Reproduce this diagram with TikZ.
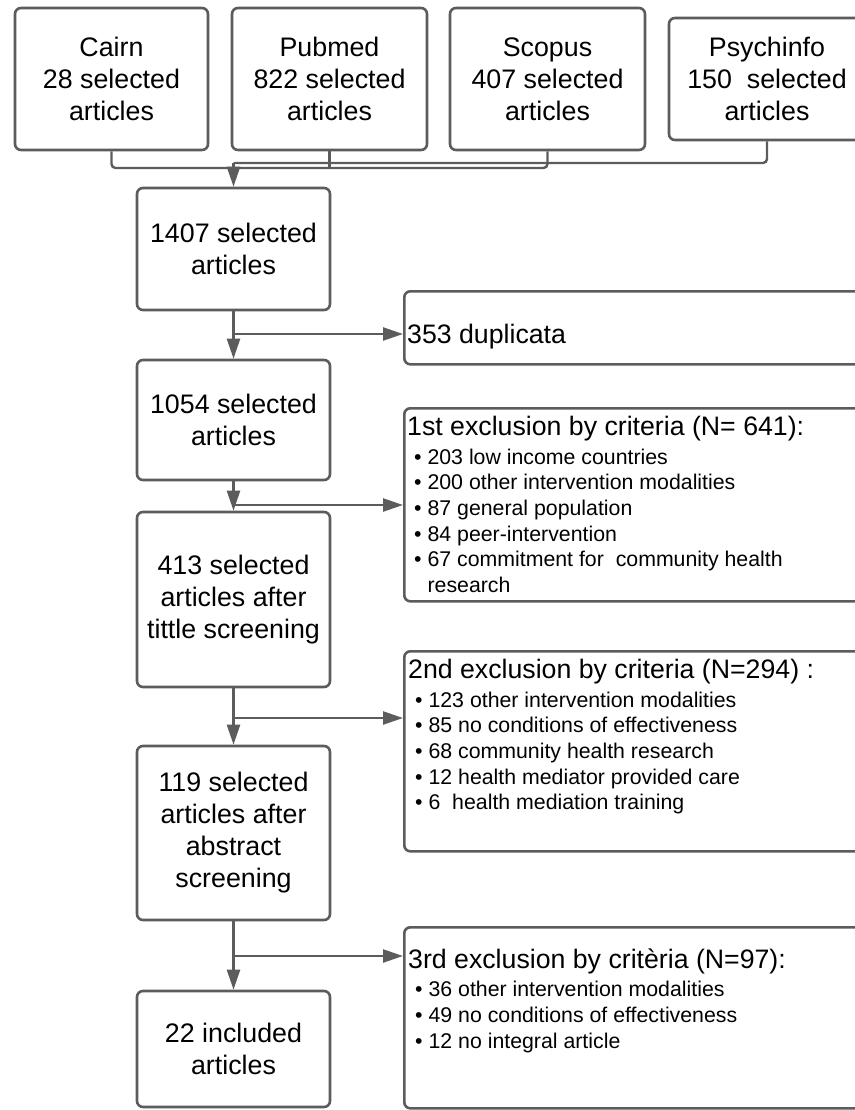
\documentclass[tikz,border=0pt]{standalone}
\usepackage{fontspec}
\setmainfont{Liberation Sans}
\usetikzlibrary{arrows.meta,positioning}

\begin{document}
\begin{tikzpicture}[x=1pt,y=-1pt,
  box/.style={draw=black!64,line width=2.6pt,rounded corners=6pt,align=center,
    minimum width=193pt,inner sep=0pt,font=\fontsize{26.8}{32}\selectfont},
  sidebox/.style={draw=black!64,line width=2.6pt,rounded corners=6pt,
    anchor=north west,minimum width=467pt,inner sep=0pt},
  note/.style={anchor=north west,align=left,inner sep=0pt,
    font=\fontsize{21.3}{25.7}\selectfont},
  head/.style={font=\fontsize{26.7}{32}\selectfont},
  link/.style={draw=black!64,line width=2.4pt,rounded corners=4pt},
  arr/.style={link,-{Triangle[length=20pt,width=13pt]}}]
  \useasboundingbox (0,0) rectangle (854,1110);
  \def\colx{233.5}
  \def\itm{\hspace*{7pt}•\ }
  % databases
  \node[box,minimum height=142pt] (cairn) at (111.5,79) {Cairn\\28 selected\\articles};
  \node[box,minimum width=195pt,minimum height=142pt] (pubmed) at (329.5,79) {Pubmed\\822 selected\\articles};
  \node[box,minimum width=195pt,minimum height=142pt] (scopus) at (547.5,79) {Scopus\\407 selected\\articles};
  \node[box,minimum width=196pt,minimum height=122pt] (psych) at (767,79) {Psychinfo\\150\ \ selected\\articles};
  % main column
  \node[box,minimum height=122pt] (n1407) at (\colx,249) {1407 selected\\articles};
  \node[box,minimum height=120pt] (n1054) at (\colx,420) {1054 selected\\articles};
  \node[box,minimum height=175pt] (n413) at (\colx,599.5) {413 selected\\articles after\\tittle screening};
  \node[box,minimum height=174pt] (n119) at (\colx,833) {119 selected\\articles after\\abstract\\screening};
  \node[box,minimum height=116pt] (n22) at (\colx,1049) {22 included\\articles};
  % excluded
  \node[sidebox,minimum height=73pt] (dup) at (403,290) {};
  \node[sidebox,minimum height=193pt] (ex1) at (403,407) {};
  \node[sidebox,minimum height=200pt] (ex2) at (403,650) {};
  \node[sidebox,minimum height=181pt] (ex3) at (403,926) {};
  \node[note,head,below right=34pt and 4pt of dup.north west] (duptx) {353 duplicata};
  \node[note,below right=9pt and 4pt of ex1.north west] (ex1tx) {{\fontsize{26.7}{32}\selectfont 1st exclusion by criteria (N= 641):}\\[2.8pt]
    \itm 203 low income countries\\
    \itm 200 other intervention modalities\\
    \itm 87 general population\\
    \itm 84 peer-intervention\\
    \itm 67 commitment for\ \ community health\\
    \hspace*{7pt}\phantom{•\ }research};
  \node[note,below right=9pt and 5pt of ex2.north west] (ex2tx) {{\fontsize{26.7}{32}\selectfont 2nd exclusion by criteria (N=294) :}\\[2.8pt]
    \itm 123 other intervention modalities\\
    \itm 85 no conditions of effectiveness\\
    \itm 68 community health research\\
    \itm 12 health mediator provided care\\
    \itm 6\ \ health mediation training};
  \node[note,below right=23pt and 5pt of ex3.north west] (ex3tx) {{\fontsize{26.7}{32}\selectfont 3rd exclusion by critèria (N=97):}\\[2.2pt]
    \itm 36 other intervention modalities\\
    \itm 49 no conditions of effectiveness\\
    \itm 12 no integral article};
  % connectors
  \coordinate (busA) at (\colx,168);
  \coordinate (join) at (\colx,163);
  \draw[link] (cairn.south) |- (scopus.south |- busA) -- (scopus.south);
  \draw[link] (pubmed.south) -- (pubmed.south |- busA);
  \draw[link] (psych.south) |- (join);
  \draw[arr] (join) -- (n1407);
  \coordinate (b1) at (\colx,334);
  \coordinate (b2) at (\colx,505);
  \coordinate (b3) at (\colx,718);
  \coordinate (b4) at (\colx,956);
  \draw[arr] (n1407) -- (n1054);
  \draw[arr] (n1054) -- (n413);
  \draw[arr] (n413) -- (n119);
  \draw[arr] (n119) -- (n22);
  \draw[arr] (b1) -- (b1 -| dup.west);
  \draw[arr] (b2) -- (b2 -| ex1.west);
  \draw[arr] (b3) -- (b3 -| ex2.west);
  \draw[arr] (b4) -- (b4 -| ex3.west);
\end{tikzpicture}
\end{document}
